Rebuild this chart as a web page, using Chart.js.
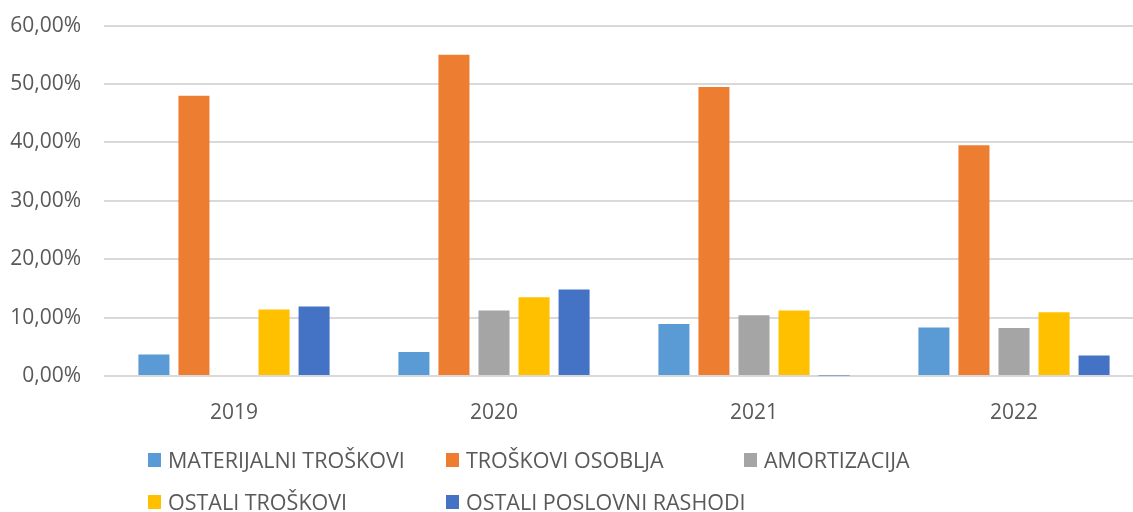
<!DOCTYPE html>
<html>
<head>
<meta charset="utf-8">
<script src="https://cdn.jsdelivr.net/npm/chart.js@4.4.1/dist/chart.umd.min.js"></script>
<style>
    html, body { margin: 0; padding: 0; background: #fff; overflow: hidden; width: 1133px; height: 512px; }
    .wrap { position: absolute; left: 0; top: -10px; width: 1144px; height: 440px; }
    .legend { position: absolute; left: 0; top: 0; width: 1133px; height: 512px; pointer-events: none; }
    .item { position: absolute; display: flex; align-items: center; white-space: nowrap;
            font-family: 'Open Sans', sans-serif; font-size: 21.5px; color: #595959; }
    .item span.box { display: inline-block; width: 13px; height: 14px; margin-right: 7px; }
</style>
</head>
<body>
<div class="wrap"><canvas id="chart" width="1144" height="440"></canvas></div>
<div class="legend" id="legend"></div>
<script>
const years = ['2019', '2020', '2021', '2022'];

const materijalni = [3.7, 4.1, 8.9, 8.3];
const osoblje = [48.0, 55.0, 49.5, 39.5];
const amortizacija = [0, 11.2, 10.4, 8.2];
const ostaliTroskovi = [11.4, 13.5, 11.2, 10.9];
const poslovniRashodi = [11.9, 14.8, 0.1, 3.5];

const seriesNames = ['MATERIJALNI TROŠKOVI', 'TROŠKOVI OSOBLJA', 'AMORTIZACIJA', 'OSTALI TROŠKOVI', 'OSTALI POSLOVNI RASHODI'];
const seriesColors = ['#5B9BD5', '#ED7D31', '#A5A5A5', '#FFC000', '#4472C4'];
const seriesData = [materijalni, osoblje, amortizacija, ostaliTroskovi, poslovniRashodi];

const tickFont = { family: "'Open Sans', sans-serif", size: 21 };

const chart = new Chart(document.getElementById('chart').getContext('2d'), {
    type: 'bar',
    data: {
        labels: years,
        datasets: seriesNames.map((label, i) => ({
            label,
            data: seriesData[i],
            backgroundColor: seriesColors[i],
            borderWidth: 0,
            categoryPercentage: 0.77,
            barPercentage: 0.775
        }))
    },
    options: {
        responsive: false,
        animation: false,
        layout: { padding: { top: 13, right: 0, left: 0, bottom: 0 } },
        plugins: { legend: { display: false }, tooltip: { enabled: false } },
        scales: {
            x: {
                grid: { display: false },
                border: { display: false },
                ticks: { color: '#595959', font: tickFont, padding: 16 },
                afterFit: (s) => { s.height = 54; }
            },
            y: {
                min: 0,
                max: 60,
                grid: { color: '#d9d9d9', lineWidth: 2, drawTicks: false },
                border: { display: false },
                ticks: {
                    stepSize: 10,
                    color: '#595959',
                    font: tickFont,
                    padding: 23,
                    callback: v => v.toFixed(2).replace('.', ',') + '%'
                },
                afterFit: (s) => { s.width = 104; }
            }
        }
    }
});

// legend laid out in a 3-column grid like the original
const legend = document.getElementById('legend');
chart.data.datasets.forEach((ds, i) => {
    const el = document.createElement('div');
    el.className = 'item';
    el.style.left = (148 + (i % 3) * 298) + 'px';
    el.style.top = (445 + Math.floor(i / 3) * 42) + 'px';
    el.innerHTML = `<span class="box" style="background:${ds.backgroundColor}"></span>${ds.label}`;
    legend.appendChild(el);
});
</script>
</body>
</html>
